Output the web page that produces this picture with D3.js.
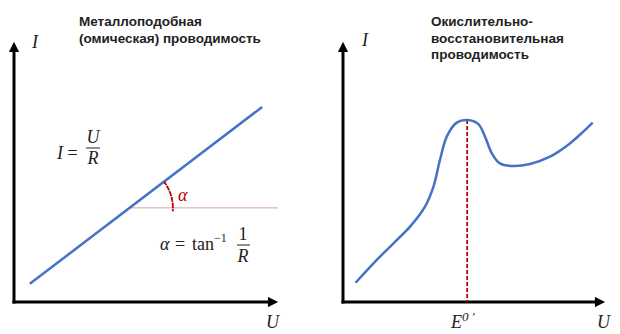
<!DOCTYPE html>
<html>
<head>
<meta charset="utf-8">
<script src="https://cdnjs.cloudflare.com/ajax/libs/d3/7.8.5/d3.min.js"></script>
<style>
  body { margin: 0; background: #fff; }
  .title { font-family: "Liberation Sans", Arial, sans-serif; font-weight: bold; font-size: 13.5px; fill: #222; }
  .math { font-family: "Liberation Serif", "DejaVu Serif", serif; font-size: 18px; fill: #222; }
</style>
</head>
<body>
<script>
// ---- data ----
const titleLeft = ['Металлоподобная', '(омическая) проводимость'];
const titleRight = ['Окислительно-', 'восстановительная', 'проводимость'];

// ohmic line (U, I), arbitrary units 0..10
const ohmicU = [0.6, 9.4];
const ohmicI = [0.7, 7.5];
// horizontal reference for the angle
const refI = 3.62;
const refU = [4.39, 10];

// redox curve
const redoxU = [0.48, 1.29, 2.05, 2.56, 3.13, 3.45, 3.70, 3.96, 4.34, 4.74, 5.16, 5.42, 5.68, 5.99, 6.50, 7.14, 7.90, 8.66, 9.17, 9.53];
const redoxI = [0.74, 1.62, 2.38, 2.90, 3.67, 4.43, 5.46, 6.36, 6.90, 7.00, 6.85, 6.36, 5.72, 5.33, 5.23, 5.31, 5.59, 6.10, 6.55, 6.90];
const peakU = 4.74;
const peakI = 7.00;

const W = 620, H = 334;
const svg = d3.select('body').append('svg').attr('width', W).attr('height', H);

const defs = svg.append('defs');
defs.append('marker').attr('id', 'arr')
  .attr('viewBox', '0 0 10 10').attr('refX', 2).attr('refY', 5)
  .attr('markerWidth', 4).attr('markerHeight', 3.4).attr('orient', 'auto')
  .attr('markerUnits', 'strokeWidth')
  .append('path').attr('d', 'M0,0 L10,5 L0,10 z').attr('fill', '#000');

const blue = '#4472c4', red = '#c00000';

function axes(x, y, xLab, yLab) {
  const [x0, x1] = x.range();
  const [y0, y1] = y.range();
  svg.append('line').attr('x1', x0).attr('y1', y0 + 1.5).attr('x2', x0).attr('y2', y1 + 8)
    .attr('stroke', '#000').attr('stroke-width', 3).attr('marker-end', 'url(#arr)');
  svg.append('line').attr('x1', x0 - 1.5).attr('y1', y0).attr('x2', x1 - 8).attr('y2', y0)
    .attr('stroke', '#000').attr('stroke-width', 3).attr('marker-end', 'url(#arr)');
  svg.append('text').attr('class', 'math').attr('font-style', 'italic')
    .attr('x', yLab[0]).attr('y', yLab[1]).text('I');
  svg.append('text').attr('class', 'math').attr('font-style', 'italic')
    .attr('x', xLab[0]).attr('y', xLab[1]).text('U');
}

// ---- left panel ----
const xL = d3.scaleLinear().domain([0, 10]).range([14, 278]);
const yL = d3.scaleLinear().domain([0, 10]).range([302, 42]);
axes(xL, yL, [266, 328], [32, 48]);

titleLeft.forEach((t, i) => svg.append('text').attr('class', 'title')
  .attr('x', 79).attr('y', 26 + i * 17).text(t));

svg.append('line')
  .attr('x1', xL(refU[0])).attr('x2', xL(refU[1]))
  .attr('y1', yL(refI)).attr('y2', yL(refI))
  .attr('stroke', '#d8a0aa').attr('stroke-width', 1);

svg.append('path')
  .datum(d3.zip(ohmicU, ohmicI))
  .attr('d', d3.line().x(d => xL(d[0])).y(d => yL(d[1])))
  .attr('fill', 'none').attr('stroke', blue).attr('stroke-width', 2.5);

// angle arc
const cx = xL(refU[0]), cy = yL(refI);
const ang = Math.atan2(yL(ohmicI[0]) - yL(ohmicI[1]), xL(ohmicU[1]) - xL(ohmicU[0]));
const r = 43;
const arc = d3.arc().innerRadius(r).outerRadius(r)
  .startAngle(Math.PI / 2 - ang).endAngle(Math.PI / 2 + 0.08);
svg.append('path').attr('transform', `translate(${cx},${cy})`)
  .attr('d', arc()).attr('fill', 'none').attr('stroke', red)
  .attr('stroke-width', 1.8).attr('stroke-dasharray', '4,2');
svg.append('text').attr('class', 'math').attr('font-style', 'italic')
  .style('fill', red).attr('x', 178).attr('y', 201).text('α');

// I = U / R
const f1 = svg.append('g').attr('class', 'math');
f1.append('text').attr('x', 57).attr('y', 159).html('<tspan font-style="italic">I</tspan> =');
f1.append('text').attr('x', 93).attr('y', 143).attr('text-anchor', 'middle').attr('font-style', 'italic').text('U');
f1.append('line').attr('x1', 86).attr('x2', 100).attr('y1', 148).attr('y2', 148).attr('stroke', '#222').attr('stroke-width', 1);
f1.append('text').attr('x', 93).attr('y', 164).attr('text-anchor', 'middle').attr('font-style', 'italic').text('R');

// alpha = tan^-1 1/R
const f2 = svg.append('g').attr('class', 'math');
f2.append('text').attr('x', 160).attr('y', 250).attr('font-style', 'italic').text('α');
f2.append('text').attr('x', 175).attr('y', 250).text('=');
f2.append('text').attr('x', 192).attr('y', 250).text('tan');
f2.append('text').attr('x', 214).attr('y', 242).attr('font-size', 12).text('−1');
f2.append('text').attr('x', 243).attr('y', 240).attr('text-anchor', 'middle').text('1');
f2.append('line').attr('x1', 237).attr('x2', 250).attr('y1', 245).attr('y2', 245).attr('stroke', '#222').attr('stroke-width', 1);
f2.append('text').attr('x', 243).attr('y', 262).attr('text-anchor', 'middle').attr('font-style', 'italic').text('R');

// ---- right panel ----
const xR = d3.scaleLinear().domain([0, 10]).range([343, 605]);
const yR = d3.scaleLinear().domain([0, 10]).range([302, 42]);
axes(xR, yR, [597, 328], [362, 46]);

titleRight.forEach((t, i) => svg.append('text').attr('class', 'title')
  .attr('x', 431).attr('y', 26 + i * 16.5).text(t));

svg.append('line')
  .attr('x1', xR(peakU)).attr('x2', xR(peakU))
  .attr('y1', yR(peakI)).attr('y2', yR(0))
  .attr('stroke', red).attr('stroke-width', 1.8).attr('stroke-dasharray', '4,2');

svg.append('path')
  .datum(d3.zip(redoxU, redoxI))
  .attr('d', d3.line().x(d => xR(d[0])).y(d => yR(d[1])).curve(d3.curveCatmullRom))
  .attr('fill', 'none').attr('stroke', blue).attr('stroke-width', 2.5);

svg.append('text').attr('class', 'math').attr('font-style', 'italic')
  .attr('x', 451).attr('y', 328)
  .html('E<tspan dy="-7" font-size="13">0 ′</tspan>');
</script>
</body>
</html>
